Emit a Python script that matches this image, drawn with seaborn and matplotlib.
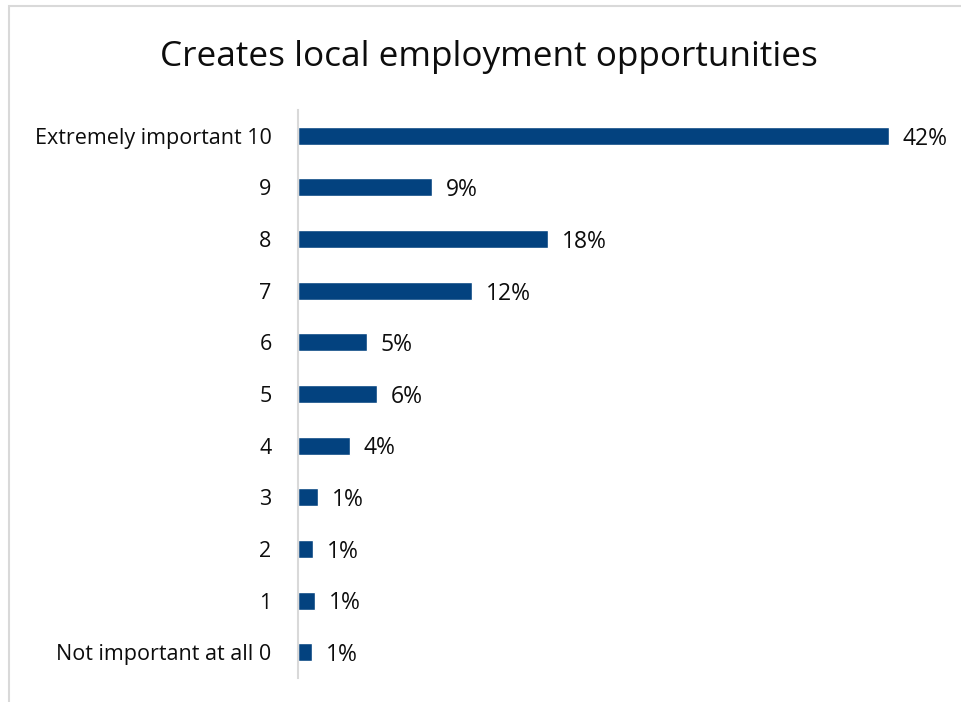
import matplotlib
matplotlib.use("Agg")
import matplotlib.pyplot as plt
import seaborn as sns
import pandas as pd
from matplotlib.patches import Rectangle

categories = ["Extremely important 10", "9", "8", "7", "6", "5", "4", "3", "2", "1", "Not important at all 0"]
values = [42.0, 9.5, 17.8, 12.4, 4.9, 5.6, 3.7, 1.4, 1.1, 1.2, 1.0]
labels = ["42%", "9%", "18%", "12%", "5%", "6%", "4%", "1%", "1%", "1%", "1%"]
title = "Creates local employment opportunities"

df = pd.DataFrame({"category": categories, "value": values})

sns.set_theme(style="white")
plt.rcParams["font.family"] = ["Open Sans", "DejaVu Sans"]

W, H = 961, 702
fig = plt.figure(figsize=(W / 100, H / 100), dpi=100)
fig.patch.set_facecolor("white")

# outer frame (extends past right and bottom edges)
fig.add_artist(Rectangle((9 / W, -0.1), 1.2, 1.1 - 6 / H, transform=fig.transFigure,
                         fill=False, edgecolor="#d9d9d9", linewidth=1.5))

ax = fig.add_axes([298 / W, 1 - 678 / H, (940 - 298) / W, (678 - 110) / H])
sns.barplot(data=df, y="category", x="value", orient="h", color="#03427f",
            width=0.35, ax=ax, saturation=1)

ax.set_xlim(0, 42 / 591 * 642)
ax.set_ylim(10.5, -0.5)
ax.set_xlabel("")
ax.set_ylabel("")
ax.set_xticks([])
for s in ["top", "right", "bottom"]:
    ax.spines[s].set_visible(False)
ax.spines["left"].set_color("#d9d9d9")
ax.spines["left"].set_linewidth(1.5)
ax.tick_params(axis="y", length=0, pad=19, labelsize=15.5, labelcolor="#0d0d0d")

for i, (v, lab) in enumerate(zip(values, labels)):
    ax.annotate(lab, xy=(v, i), xytext=(10, -2), textcoords="offset points",
                va="center", ha="left", fontsize=16.5, color="#0d0d0d")

fig.text(489 / W, 1 - 57 / H, title, ha="center", va="center", fontsize=25.3, color="#0d0d0d")

fig.savefig("out.png", dpi=100)
